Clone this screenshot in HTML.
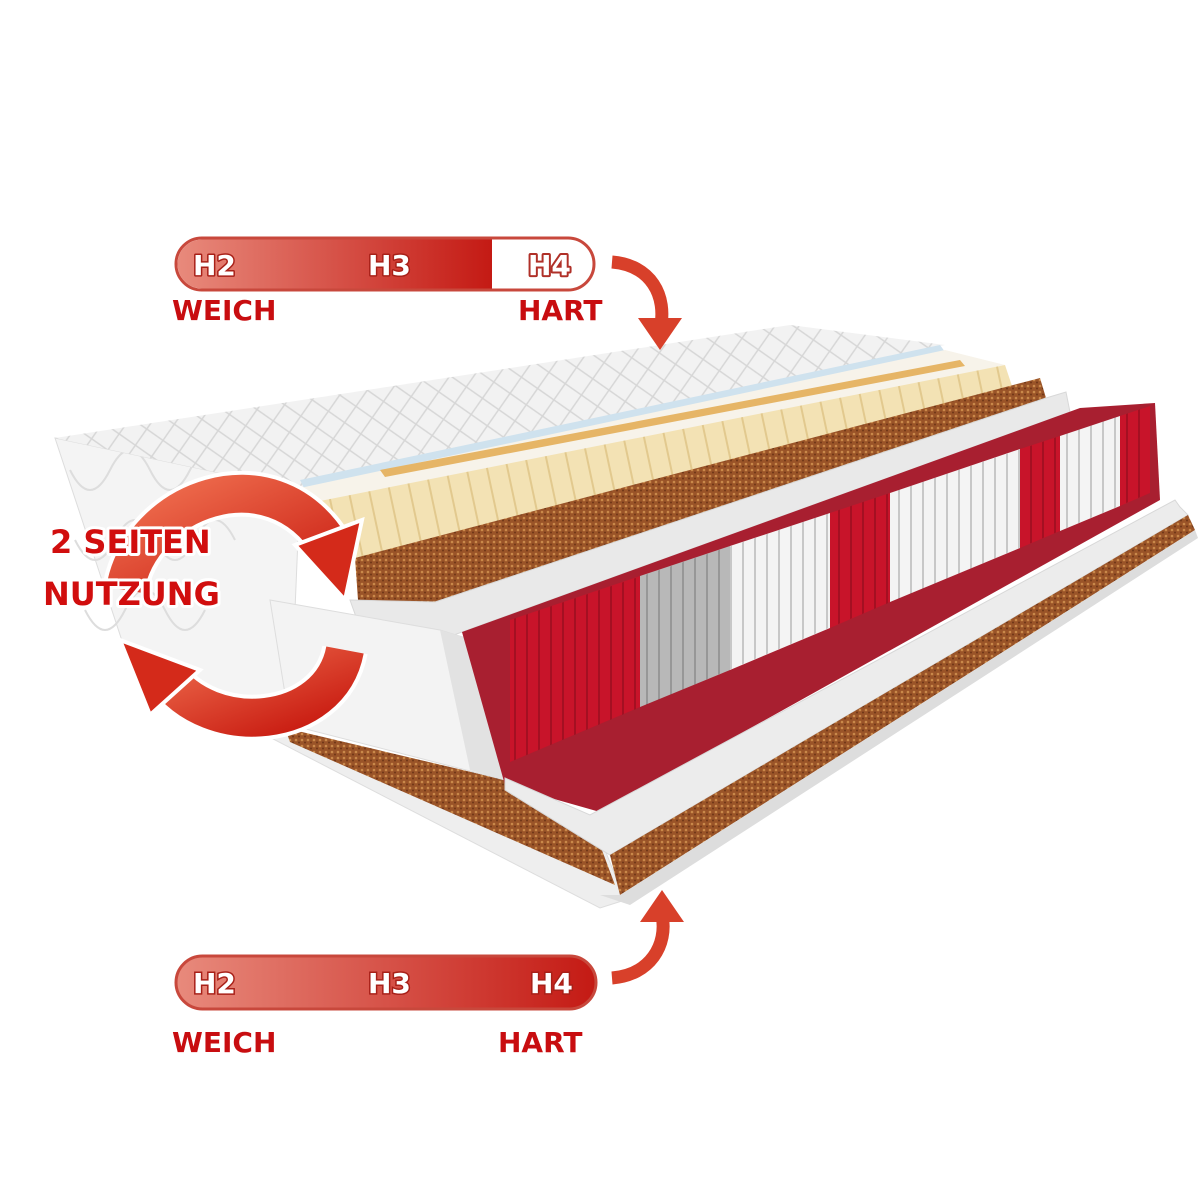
<!DOCTYPE html>
<html><head><meta charset="utf-8"><style>
html,body{margin:0;padding:0;background:#fff}
svg{display:block}
.t{font-family:"DejaVu Sans","Liberation Sans",sans-serif;font-weight:bold}
</style></head><body>
<svg width="1200" height="1200" viewBox="0 0 1200 1200" xmlns="http://www.w3.org/2000/svg">
<defs>
<linearGradient id="bar" x1="0" x2="1"><stop offset="0" stop-color="#e88a7c"/><stop offset="1" stop-color="#c41a14"/></linearGradient>
<linearGradient id="arr" x1="0" x2="1" y1="0" y2="1"><stop offset="0" stop-color="#f07050"/><stop offset="1" stop-color="#c81a10"/></linearGradient>
<pattern id="quilt" width="28" height="28" patternUnits="userSpaceOnUse" patternTransform="rotate(-10)">
<rect width="28" height="28" fill="#f2f2f2"/><path d="M0 14 L14 0 L28 14 L14 28Z" fill="none" stroke="#d6d6d6" stroke-width="1.5"/></pattern>
<pattern id="coco" width="6" height="6" patternUnits="userSpaceOnUse"><rect width="6" height="6" fill="#9a5428"/><circle cx="2" cy="2" r="1.3" fill="#c9894a"/><circle cx="5" cy="4.5" r="1" fill="#6e3616"/></pattern>
<pattern id="str" width="12" height="12" patternUnits="userSpaceOnUse"><rect width="12" height="12" fill="none"/><rect x="10" width="2" height="12" fill="#000" opacity="0.18"/></pattern>
<pattern id="lat" width="20" height="20" patternUnits="userSpaceOnUse" patternTransform="rotate(-12)"><rect width="20" height="20" fill="#f3e2b4"/><rect x="18" width="2" height="20" fill="#e2c98e"/></pattern>
</defs>

<polygon points="55,438 300,490 290,730 130,665" fill="#f4f4f4" stroke="#ddd"/>
<path d="M70,470 q20,40 40,0 t40,0 t40,0 t40,0 M75,540 q20,40 40,0 t40,0 t40,0 t40,0 M85,610 q20,40 40,0 t40,0 t40,0" fill="none" stroke="#ddd" stroke-width="2"/>
<polygon points="130,665 290,728 605,850 625,900 600,908" fill="#eeeeee" stroke="#ddd"/>
<polygon points="285,728 505,780 600,845 615,885 290,742" fill="url(#coco)"/>
<polygon points="55,438 790,325 945,345 300,490" fill="url(#quilt)"/>
<polygon points="300,480 940,345 945,352 305,490" fill="#cfe2ee"/>
<polygon points="300,488 945,350 1005,365 320,505" fill="#f7f3ea"/>
<polygon points="380,470 960,360 965,366 385,477" fill="#e6b566"/>
<polygon points="315,502 1005,365 1012,386 362,562 322,560" fill="url(#lat)"/>
<polygon points="355,558 1040,378 1046,398 435,602 358,600" fill="url(#coco)"/>
<polygon points="350,600 435,602 1046,398 1066,392 1070,412 440,640 360,628" fill="#e9e9e9" stroke="#d8d8d8"/>
<polygon points="270,600 440,630 505,650 505,780 290,725" fill="#f3f3f3" stroke="#ddd"/>
<polygon points="440,630 505,650 505,780 470,770" fill="#e2e2e2"/>
<!-- maroon base -->
<polygon points="462,632 1080,408 1155,403 1160,500 600,812 505,785" fill="#a81f30"/>
<!-- springs -->
<polygon points="510,620 640,576 640,707 510,762" fill="#c8142a"/>
<polygon points="640,576 730,546 730,670 640,707" fill="#b8b8b8"/>
<polygon points="730,546 830,513 830,628 730,670" fill="#f4f4f4"/>
<polygon points="830,513 890,493 890,602 830,628" fill="#c8142a"/>
<polygon points="890,493 1020,449 1020,548 890,602" fill="#f4f4f4"/>
<polygon points="1020,449 1060,436 1060,531 1020,548" fill="#c8142a"/>
<polygon points="1060,436 1120,416 1120,506 1060,531" fill="#f4f4f4"/>
<polygon points="1120,416 1150,406 1150,493 1120,506" fill="#c8142a"/>
<polygon points="510,620 1150,406 1150,493 510,762" fill="url(#str)"/>
<!-- lower foam -->
<polygon points="505,778 590,815 1175,500 1180,507 1188,515 610,855 505,790" fill="#ececec" stroke="#d8d8d8"/>
<polygon points="610,855 1188,515 1195,530 620,895" fill="url(#coco)"/>
<polygon points="600,895 620,895 1195,530 1198,538 630,905" fill="#ddd"/>

<path d="M125,590 C140,500 270,450 330,545" fill="none" stroke="#fff" stroke-width="46"/>
<path d="M125,590 C140,500 270,450 330,545" fill="none" stroke="url(#arr)" stroke-width="38"/>
<polygon points="295,545 362,520 345,600" fill="#d42a1a" stroke="#fff" stroke-width="4"/>
<path d="M345,650 C330,730 210,740 165,675" fill="none" stroke="#fff" stroke-width="46"/>
<path d="M345,650 C330,730 210,740 165,675" fill="none" stroke="url(#arr)" stroke-width="38"/>
<polygon points="120,640 200,670 150,715" fill="#d42a1a" stroke="#fff" stroke-width="4"/>
<g class="t" font-size="32" fill="#d10e0e" stroke="#fff" stroke-width="6" paint-order="stroke" stroke-linejoin="round">
<text x="50" y="553">2 SEITEN</text>
<text x="43" y="605">NUTZUNG</text>
</g>

<rect x="176" y="238" width="418" height="52" rx="26" fill="#fff" stroke="#c8483c" stroke-width="3"/>
<path d="M202,239.5 H492 V288.5 H202 A24.5,24.5 0 0 1 202,239.5Z" fill="url(#bar)"/>
<g class="t" font-size="28" stroke-linejoin="round" paint-order="stroke">
<text x="193" y="275" fill="#fff" stroke="#a82018" stroke-width="3">H2</text>
<text x="368" y="275" fill="#fff" stroke="#a82018" stroke-width="3">H3</text>
<text x="528" y="275" fill="#fff" stroke="#b03028" stroke-width="4">H4</text>
</g>
<g class="t" font-size="28" fill="#c80d10" stroke="#fff" stroke-width="4" paint-order="stroke">
<text x="172" y="320">WEICH</text>
<text x="518" y="320">HART</text>
</g>
<path d="M612,262 C650,265 668,295 660,330" fill="none" stroke="#fff" stroke-width="18"/>
<path d="M612,262 C650,265 668,295 660,330" fill="none" stroke="#d8402a" stroke-width="13"/>
<polygon points="638,318 682,318 660,350" fill="#d8402a"/>

<rect x="176" y="956" width="420" height="53" rx="26.5" fill="url(#bar)" stroke="#c8483c" stroke-width="3"/>
<g class="t" font-size="28" fill="#fff" stroke="#a82018" stroke-width="3" paint-order="stroke">
<text x="193" y="993">H2</text>
<text x="368" y="993">H3</text>
<text x="530" y="993">H4</text>
</g>
<g class="t" font-size="28" fill="#c80d10" stroke="#fff" stroke-width="4" paint-order="stroke">
<text x="172" y="1052">WEICH</text>
<text x="498" y="1052">HART</text>
</g>
<path d="M612,978 C650,975 668,945 662,915" fill="none" stroke="#fff" stroke-width="18"/>
<path d="M612,978 C650,975 668,945 662,915" fill="none" stroke="#d8402a" stroke-width="13"/>
<polygon points="640,922 684,922 662,890" fill="#d8402a"/>
</svg>
</body></html>
